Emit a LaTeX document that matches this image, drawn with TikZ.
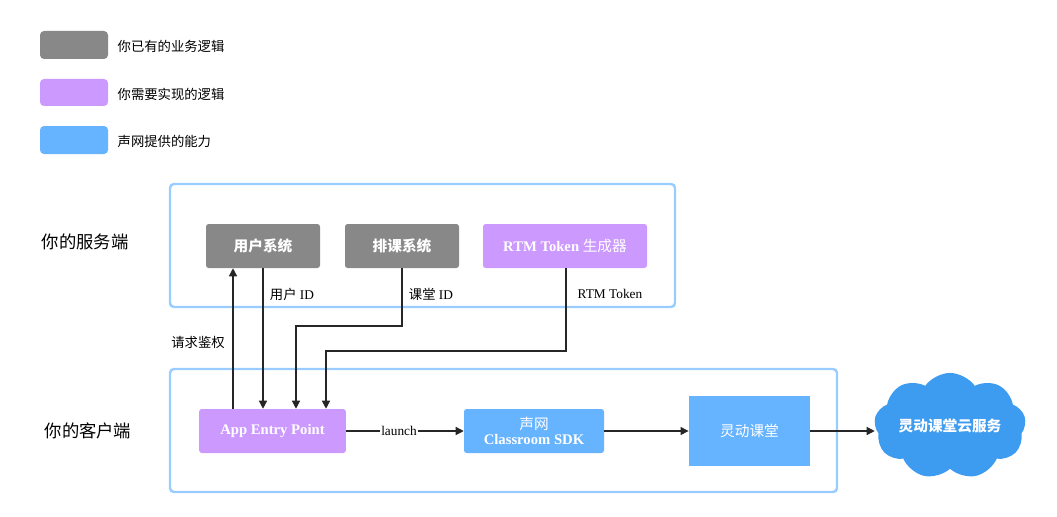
\documentclass[tikz,border=0pt]{standalone}
\usepackage{fontspec}
\setmainfont{Liberation Serif}
\newfontfamily\cjk{Noto Sans CJK SC}
\usetikzlibrary{shapes.symbols,arrows.meta}
\definecolor{grayBox}{HTML}{888888}
\definecolor{purpleBox}{HTML}{CC99FF}
\definecolor{blueBox}{HTML}{66B3FF}
\definecolor{frameBlue}{HTML}{99CCFF}
\definecolor{cloudBlue}{HTML}{3D9BF0}
\tikzset{
  box/.style={rounded corners=2pt, text=white, font=\bfseries\fontsize{11}{13}\selectfont, align=center, inner sep=0pt},
  frame/.style={draw=frameBlue, line width=1.8pt, rounded corners=3pt},
  legend/.style={rounded corners=3pt},
  lbl/.style={font=\fontsize{10}{12}\selectfont, anchor=west},
  edge/.style={draw=black!85, line width=0.9pt, -{Triangle[length=6pt,width=6pt]}}
}
\begin{document}
\begin{tikzpicture}[x=0.75pt,y=-0.75pt]
\useasboundingbox (0,0) rectangle (1057,517);
% legend
\fill[grayBox,legend] (40,31) rectangle (108,59);
\node[lbl] (lg1) at (113,46) {\cjk 你已有的业务逻辑};
\fill[purpleBox,legend] (40,79) rectangle (108,106);
\node[lbl] (lg2) at (113,94) {\cjk 你需要实现的逻辑};
\fill[blueBox,legend] (40,126) rectangle (108,154);
\node[lbl] (lg3) at (113,141) {\cjk 声网提供的能力};
% frames
\draw[frame] (170,184) rectangle (675,307);
\draw[frame] (170,369) rectangle (837,492);
\node[font=\fontsize{13}{15}\selectfont] (server) at (85,242) {\cjk 你的服务端};
\node[font=\fontsize{13}{15}\selectfont] (client) at (88,431) {\cjk 你的客户端};
% server side
\node[box, fill=grayBox, minimum width=85.5pt, minimum height=33pt] (user) at (263,246) {\cjk 用户系统};
\node[box, fill=grayBox, minimum width=85.5pt, minimum height=33pt] (course) at (402,246) {\cjk 排课系统};
\node[box, fill=purpleBox, minimum width=123pt, minimum height=33pt] (rtm) at (565,246) {RTM Token {\cjk\mdseries 生成器}};
% client side
\node[box, fill=purpleBox, minimum width=110pt, minimum height=33pt] (app) at (272.5,431) {App Entry Point};
\node[box, fill=blueBox, minimum width=105pt, minimum height=33pt] (sdk) at (534,431) {{\cjk\mdseries 声网}\\[-2pt]Classroom SDK};
\node[box, fill=blueBox, rounded corners=0pt, minimum width=91pt, minimum height=52pt, font=\fontsize{11}{13}\selectfont] (flex) at (749.5,431) {\cjk 灵动课堂};
\node[cloud, cloud puffs=9, cloud puff arc=110, aspect=1.7, fill=cloudBlue, text=white, minimum width=112pt, minimum height=68pt, inner sep=0pt, font=\bfseries\fontsize{11}{13}\selectfont] (cloud) at (950,426) {\cjk 灵动课堂云服务};
% connectors
\draw[edge] (app.north -| 233,0) -- (user.south -| 233,0);
\node[lbl, anchor=center] (auth) at (198,342) {\cjk 请求鉴权};
\draw[edge] (user.south) -- (app.north -| user.south);
\node[lbl, anchor=center] (uid) at (292,294) {{\cjk 用户} ID};
\draw[edge] (course.south) -- (402,326) -- (296,326) -- (app.north -| 296,0);
\node[lbl, anchor=center] (cid) at (431,294) {{\cjk 课堂} ID};
\draw[edge] (rtm.south -| 566,0) -- (566,351) -- (326,351) -- (app.north -| 326,0);
\node[lbl, anchor=center] (tok) at (610,294) {RTM Token};
\draw[edge] (app) -- node[fill=white, inner sep=1pt, font=\fontsize{10}{12}\selectfont, pos=0.45] {launch} (sdk);
\draw[edge] (sdk) -- (flex);
\draw[edge] (flex) -- (cloud.west |- flex);
\end{tikzpicture}
\end{document}
